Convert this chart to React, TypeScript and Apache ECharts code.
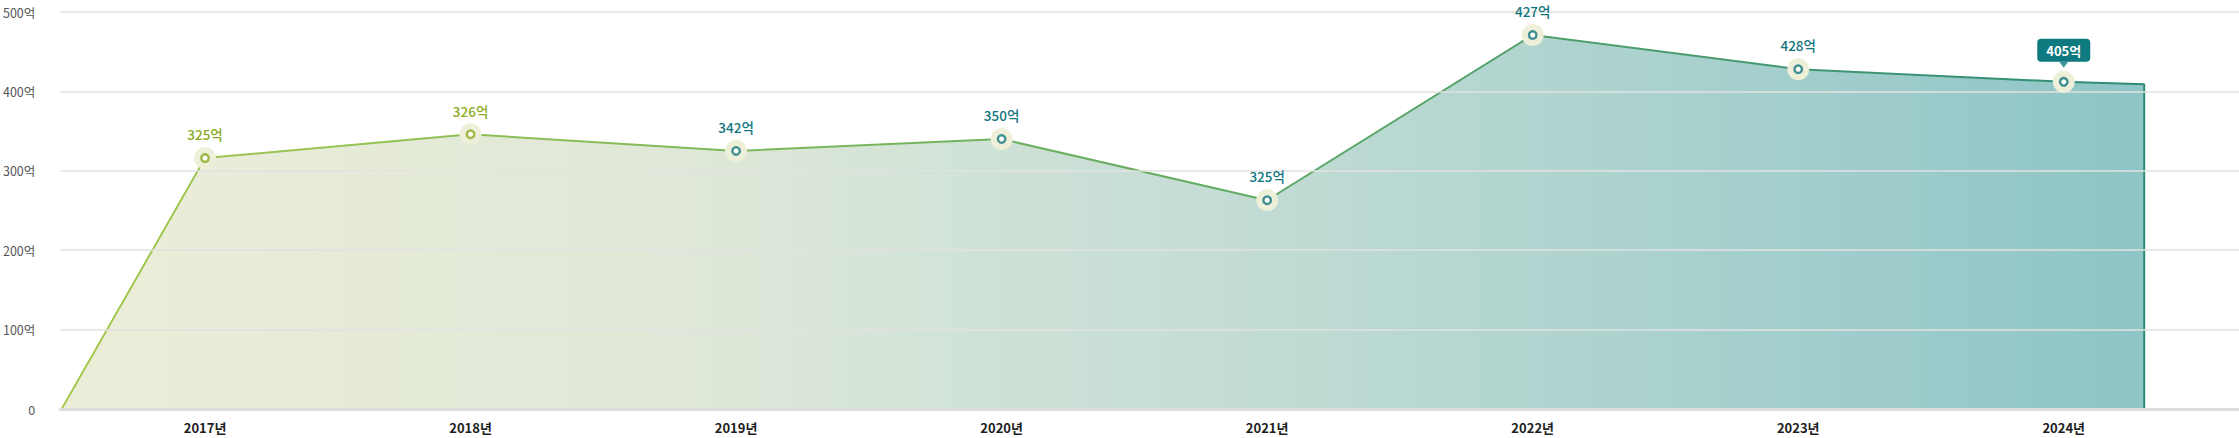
import React, { useEffect, useRef } from "react";
import * as echarts from "echarts";

const years = ["2017년", "2018년", "2019년", "2020년", "2021년", "2022년", "2023년", "2024년"];
const plotValues = [316, 346, 325, 340, 263, 471, 428, 412];
const labelValues = [325, 326, 342, 350, 325, 427, 428, 405];
const pointColors = ["#8aab21", "#8aab21", "#12757c", "#12757c", "#12757c", "#12757c", "#12757c", "#12757c"];
const areaStartX = -0.54;
const areaEndX = 7.303;
const areaEndValue = 409;
const yTicks = [0, 100, 200, 300, 400, 500];

const FONT = "'Noto Sans CJK KR', 'Noto Sans', sans-serif";
const BOX = "#0e7a80";

export default function App() {
  const ref = useRef<HTMLDivElement>(null);
  useEffect(() => {
    if (!ref.current) return;
    const chart = echarts.init(ref.current, null, { renderer: "svg" });
    const lastIdx = years.length - 1;
    const areaData: number[][] = [
      [areaStartX, 0],
      ...plotValues.map((v, i) => [i, v]),
      [areaEndX, areaEndValue],
      [areaEndX, 0],
    ];
    const haloData = plotValues.map((v, i) => {
      const isLast = i === lastIdx;
      return {
        value: [i, v],
        label: isLast
          ? {
              show: true,
              position: "top",
              distance: 9,
              formatter: labelValues[i] + "억",
              color: "#fff",
              fontFamily: FONT,
              fontSize: 13,
              fontWeight: "bold",
              backgroundColor: BOX,
              borderRadius: 4,
              padding: [4, 9, 4, 9],
              lineHeight: 15,
            }
          : {
              show: true,
              position: "top",
              distance: 6,
              formatter: labelValues[i] + "억",
              color: pointColors[i],
              fontFamily: FONT,
              fontSize: 13.5,
              fontWeight: 500,
            },
      };
    });
    const ringData = plotValues.map((v, i) => ({
      value: [i, v],
      itemStyle: { color: "#ffffff", borderColor: pointColors[i], borderWidth: 2.4 },
    }));

    chart.setOption({
      animation: false,
      backgroundColor: "#ffffff",
      grid: { left: 58, right: 0, top: 12, bottom: 29, containLabel: false },
      xAxis: {
        type: "value",
        min: -0.545,
        max: 7.66,
        z: 3,
        splitLine: { show: false },
        axisTick: { show: false },
        axisLine: { show: true, lineStyle: { color: "#dcdcdc", width: 3 } },
        axisLabel: {
          customValues: years.map((_, i) => i),
          formatter: (v: number) => years[Math.round(v)] ?? "",
          color: "#1e1e1e",
          fontFamily: FONT,
          fontSize: 13,
          fontWeight: "bold",
          margin: 12,
        },
      },
      yAxis: {
        type: "value",
        min: 0,
        max: 500,
        interval: 100,
        z: 3,
        axisLine: { show: false },
        axisTick: { show: false },
        splitLine: { show: true, lineStyle: { color: "#e2e2e2", width: 1.5 } },
        axisLabel: {
          customValues: yTicks,
          formatter: (v: number) => (v === 0 ? "0" : v + "억"),
          color: "#555",
          fontFamily: FONT,
          fontSize: 12.5,
          margin: 25,
        },
      },
      series: [
        {
          type: "line",
          data: areaData,
          showSymbol: false,
          z: 2,
          lineStyle: {
            width: 2,
            color: new echarts.graphic.LinearGradient(0, 0, 1, 0, [
              { offset: 0, color: "#a6c94e" },
              { offset: 0.45, color: "#6fb25e" },
              { offset: 1, color: "#2d8c78" },
            ]),
          },
          areaStyle: {
            opacity: 1,
            color: new echarts.graphic.LinearGradient(0, 0, 1, 0, [
              { offset: 0, color: "#ecedd8" },
              { offset: 0.3, color: "#dfe8d8" },
              { offset: 0.55, color: "#c4ddd5" },
              { offset: 1, color: "#8ec5c6" },
            ]),
          },
        },
        {
          type: "scatter",
          data: haloData,
          symbol: "circle",
          symbolSize: 22,
          z: 4,
          itemStyle: { color: "#eeefd9", opacity: 1 },
        },
        {
          type: "scatter",
          data: ringData,
          symbol: "circle",
          symbolSize: 7.5,
          z: 5,
        },
        {
          type: "scatter",
          data: [[lastIdx, plotValues[lastIdx]]],
          symbol: "triangle",
          symbolRotate: 180,
          symbolSize: [9, 6],
          symbolOffset: [0, -17],
          z: 5,
          itemStyle: { color: BOX },
        },
      ],
    });
    return () => chart.dispose();
  }, []);
  return (
    <div
      ref={ref}
      style={{ position: "absolute", left: 0, top: 0, width: 2239, height: 438 }}
    />
  );
}
